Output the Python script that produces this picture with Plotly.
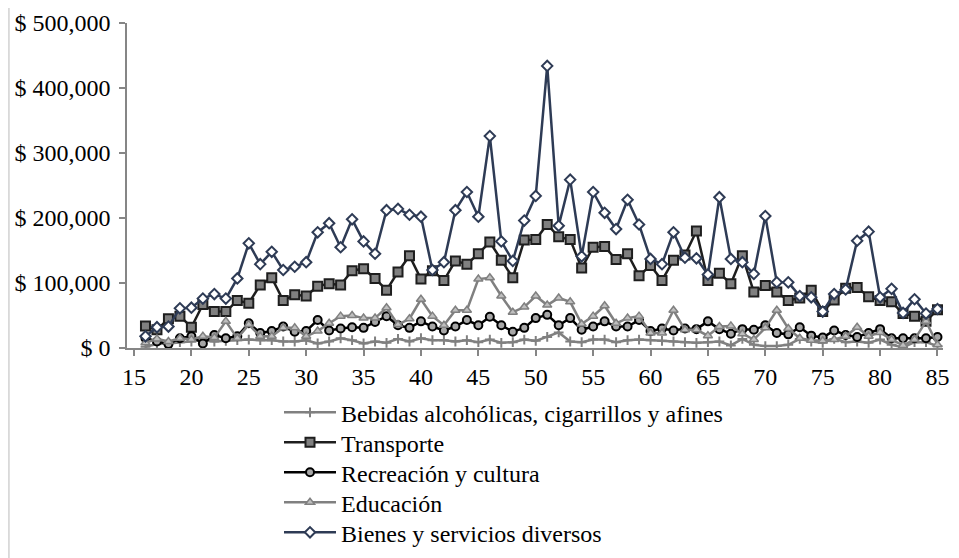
import plotly.graph_objects as go

ages = list(range(16, 86))

bebidas = [2, 6, 7, 9, 10, 12, 10, 11, 12, 13, 12, 12, 10, 10, 12, 7, 10, 15, 12, 7,
           10, 8, 14, 10, 15, 12, 12, 10, 12, 9, 13, 8, 9, 13, 11, 17, 24, 10, 9, 13,
           13, 9, 12, 13, 12, 11, 10, 9, 8, 9, 10, 4, 14, 5, 3, 3, 5, 14, 10, 8,
           14, 9, 10, 8, 13, 5, 1, 9, 9, 3]

transporte = [34, 28, 45, 49, 32, 67, 56, 56, 73, 69, 97, 108, 73, 82, 80, 95, 99, 97, 119, 122,
              107, 89, 117, 142, 106, 119, 104, 134, 129, 145, 163, 135, 108, 166, 167, 190, 171, 167, 123, 155,
              156, 136, 145, 111, 127, 104, 135, 143, 180, 104, 115, 99, 142, 86, 96, 86, 73, 77, 89, 56,
              74, 92, 93, 79, 73, 71, 53, 49, 41, 59]

recreacion = [15, 10, 6, 15, 18, 7, 20, 15, 18, 38, 23, 26, 33, 25, 26, 43, 27, 30, 32, 31,
              40, 49, 35, 31, 41, 33, 27, 33, 43, 35, 48, 35, 25, 31, 46, 51, 35, 46, 28, 33,
              41, 33, 33, 43, 26, 30, 27, 30, 29, 41, 29, 22, 29, 28, 35, 23, 21, 32, 19, 16,
              27, 20, 17, 23, 29, 15, 15, 15, 15, 17]

educacion = [8, 14, 10, 15, 13, 18, 16, 41, 15, 36, 18, 18, 31, 31, 18, 26, 38, 49, 50, 46,
             46, 62, 36, 45, 75, 49, 35, 58, 58, 106, 108, 80, 55, 63, 80, 66, 77, 71, 37, 49,
             65, 38, 46, 49, 23, 23, 58, 28, 28, 19, 33, 34, 22, 13, 31, 58, 30, 15, 12, 11,
             13, 18, 32, 18, 24, 13, 4, 13, 41, 5]

bienes = [18, 32, 33, 61, 62, 76, 83, 76, 107, 161, 129, 148, 120, 125, 132, 178, 192, 155, 198, 164,
          145, 212, 214, 205, 202, 120, 132, 212, 240, 202, 326, 164, 134, 196, 234, 434, 188, 259, 141, 240,
          208, 183, 228, 190, 137, 129, 178, 139, 138, 113, 232, 137, 132, 114, 203, 101, 101, 80, 78, 56,
          83, 90, 165, 179, 78, 91, 54, 75, 53, 60]

names = ["Bebidas alcohólicas, cigarrillos y afines", "Transporte",
         "Recreación y cultura", "Educación", "Bienes y servicios diversos"]

x_ticks = list(range(15, 90, 5))
y_ticks = [0, 100000, 200000, 300000, 400000, 500000]
y_ticktext = ["$ 0", "$ 100,000", "$ 200,000", "$ 300,000", "$ 400,000", "$ 500,000"]

FONT = "Liberation Serif"
FS = 24

# figure is drawn at page offset (8, 8) because of the default body margin
PLOT_L, PLOT_W = 119, 816
PLOT_B, PLOT_H = 340.3, 325

fig = go.Figure()

def k(vals):
    return [v * 1000 for v in vals]

styles = [
    dict(line=dict(color="#808080", width=2.5),
         marker=dict(symbol="cross-thin", size=7, line=dict(color="#808080", width=2))),
    dict(line=dict(color="#1e1e1e", width=2.5),
         marker=dict(symbol="square", size=9, color="#808080", line=dict(color="#1e1e1e", width=2))),
    dict(line=dict(color="#000000", width=2.5),
         marker=dict(symbol="circle", size=8, color="#a6a6a6", line=dict(color="#000000", width=2))),
    dict(line=dict(color="#808080", width=2.5),
         marker=dict(symbol="triangle-up", size=8, color="#bfbfbf", line=dict(color="#808080", width=1.5))),
    dict(line=dict(color="#2e3b55", width=2.5),
         marker=dict(symbol="diamond", size=8, color="#ffffff", line=dict(color="#2e3b55", width=2))),
]
series = [bebidas, transporte, recreacion, educacion, bienes]
legend_ids = ["legend", "legend2", "legend3", "legend4", "legend5"]

for name, vals, st, lid in zip(names, series, styles, legend_ids):
    fig.add_trace(go.Scatter(x=ages, y=k(vals), name=name, mode="lines+markers",
                             legend=lid, **st))

legend_rows = [405, 435, 465, 495, 525]  # figure px, entry centres
legend_left = 271
layout_legends = {}
for lid, row in zip(legend_ids, legend_rows):
    layout_legends[lid] = dict(
        x=(legend_left - PLOT_L) / PLOT_W, xanchor="left",
        y=(PLOT_B - row) / PLOT_H, yanchor="middle",
        bgcolor="rgba(0,0,0,0)", itemwidth=52,
        font=dict(family=FONT, size=FS, color="#000000"),
    )

border_x = (0.8 - PLOT_L) / PLOT_W

fig.update_layout(
    width=951, height=550,
    margin=dict(l=PLOT_L, r=16, t=15, b=210, autoexpand=False),
    paper_bgcolor="white", plot_bgcolor="white",
    font=dict(family=FONT, size=FS, color="#000000"),
    showlegend=True,
    shapes=[dict(type="line", xref="paper", yref="paper",
                 x0=border_x, x1=border_x, y0=-0.7, y1=1.1,
                 line=dict(color="#d9d9d9", width=2))],
    **layout_legends,
)

fig.update_xaxes(
    range=[14.39, 85.48], tickmode="array", tickvals=x_ticks,
    showgrid=False, zeroline=False,
    showline=True, linecolor="#868686", linewidth=1.5,
    ticks="outside", ticklen=6, tickcolor="#868686", tickwidth=1.5,
    tickfont=dict(family=FONT, size=FS, color="#000000"),
)
fig.update_yaxes(
    range=[0, 500000], tickmode="array", tickvals=y_ticks, ticktext=y_ticktext,
    showgrid=False, zeroline=False,
    showline=True, linecolor="#868686", linewidth=1.5,
    ticks="outside", ticklen=6, tickcolor="#868686", tickwidth=1.5,
    ticklabelstandoff=4,
    tickfont=dict(family=FONT, size=FS, color="#000000"),
)

fig.write_html("out.html")
